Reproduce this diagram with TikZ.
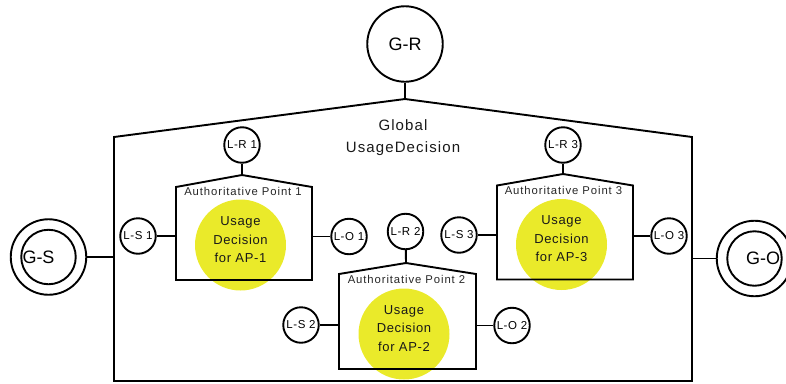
\documentclass[tikz,border=0pt]{standalone}
\usepackage{fontspec}
\setmainfont{Liberation Sans}
\newfontfamily\spA{Liberation Sans}[LetterSpace=5]
\newfontfamily\spB{Liberation Sans}[LetterSpace=8]
\newfontfamily\spC{Liberation Sans}[LetterSpace=5]
\newfontfamily\spD{Liberation Sans}[LetterSpace=7.5]
\definecolor{udyellow}{RGB}{234,234,42}
\begin{document}
\begin{tikzpicture}[x=1pt,y=-1pt,line width=1.9pt,
  lc/.style={circle,draw,minimum size=35.5pt,inner sep=0pt,font=\spA\fontsize{11.5}{13}\selectfont},
  gc/.style={circle,draw,minimum size=75.5pt,inner sep=0pt,font=\fontsize{18}{20}\selectfont},
  gi/.style={circle,draw,minimum size=54.5pt,inner sep=0pt},
  gtxt/.style={inner sep=0pt,font=\fontsize{18}{20}\selectfont},
  yc/.style={circle,fill=udyellow,draw=none,minimum size=91pt,inner sep=0pt},
  udtxt/.style={align=center,inner sep=0pt,font=\spC\fontsize{13}{18.5}\selectfont,text=black!90},
  aptxt/.style={inner sep=0pt,font=\spB\fontsize{11.3}{13}\selectfont,text=black!85},
  body/.style={draw=none,inner sep=0pt,outer sep=0pt},
  ttl/.style={align=center,inner sep=0pt,font=\spD\fontsize{15}{22}\selectfont,text=black!90}
]
\useasboundingbox (0,0) rectangle (786,383);

% yellow decision circles (under the outlines)
\node[yc] (ud1) at (240.5,245) {};
\node[yc] (ud2) at (404,334) {};
\node[yc] (ud3) at (561.5,244.5) {};

% global box
\node[body,minimum width=578pt,minimum height=244pt] (gbox) at (403,259) {};
\coordinate (gapex) at (405,99);
\draw (gbox.north west) -- (gapex) -- (gbox.north east) -- (gbox.south east) -- (gbox.south west) -- cycle;
\node[ttl] (gtitle) at (403,138) {Global\\UsageDecision};

% global circles
\node[gc] (gr) at (405,44) {G-R};
\draw (gr) -- (gapex);
\node[gc] (gs) at (48.5,257) {};
\node[gi] (gsi) at (gs.center) {};
\node[gtxt] (gst) at (38.5,257) {G-S};
\draw (gs.east) -- (gs.east -| gbox.west);
\node[gc] (go) at (754.5,258.5) {};
\node[gi] (goi) at (go.center) {};
\node[gtxt] (got) at (763,258.5) {G-O};
\draw (go.west) -- (go.west -| gbox.east);

% AP 1
\node[body,minimum width=136pt,minimum height=93pt] (ap1) at (244,233.5) {};
\coordinate (ap1top) at (242,175);
\draw (ap1.north west) -- (ap1top) -- (ap1.north east) -- (ap1.south east) -- (ap1.south west) -- cycle;
\node[aptxt] (ap1t) at (243,191) {Authoritative Point 1};
\node[lc] (lr1) at (242,145) {L-R 1};
\draw (lr1) -- (ap1top);
\node[lc] (ls1) at (138,236) {L-S 1};
\draw (ls1.east) -- (ls1.east -| ap1.west);
\node[lc] (lo1) at (349,236.5) {L-O 1};
\draw (lo1.west) -- (lo1.west -| ap1.east);
\node[udtxt] (ud1t) at (240.5,240) {Usage\\Decision\\for AP-1};

% AP 2
\node[body,minimum width=137pt,minimum height=95pt] (ap2) at (407.5,321.5) {};
\coordinate (ap2top) at (406,263);
\draw (ap2.north west) -- (ap2top) -- (ap2.north east) -- (ap2.south east) -- (ap2.south west) -- cycle;
\node[aptxt] (ap2t) at (406.5,279) {Authoritative Point 2};
\node[lc] (lr2) at (405.5,231.5) {L-R 2};
\draw (lr2) -- (ap2top);
\node[lc] (ls2) at (301,325) {L-S 2};
\draw (ls2.east) -- (ls2.east -| ap2.west);
\node[lc] (lo2) at (512,325.5) {L-O 2};
\draw (lo2.west) -- (lo2.west -| ap2.east);
\node[udtxt] (ud2t) at (404,328.5) {Usage\\Decision\\for AP-2};

% AP 3
\node[body,minimum width=136pt,minimum height=94pt] (ap3) at (565,232.5) {};
\coordinate (ap3top) at (563,174);
\draw (ap3.north west) -- (ap3top) -- (ap3.north east) -- (ap3.south east) -- (ap3.south west) -- cycle;
\node[aptxt] (ap3t) at (563.5,190) {Authoritative Point 3};
\node[lc] (lr3) at (563,145) {L-R 3};
\draw (lr3) -- (ap3top);
\node[lc] (ls3) at (459,235) {L-S 3};
\draw (ls3.east) -- (ls3.east -| ap3.west);
\node[lc] (lo3) at (669,236) {L-O 3};
\draw (lo3.west) -- (lo3.west -| ap3.east);
\node[udtxt] (ud3t) at (561.5,239) {Usage\\Decision\\for AP-3};
\end{tikzpicture}
\end{document}
